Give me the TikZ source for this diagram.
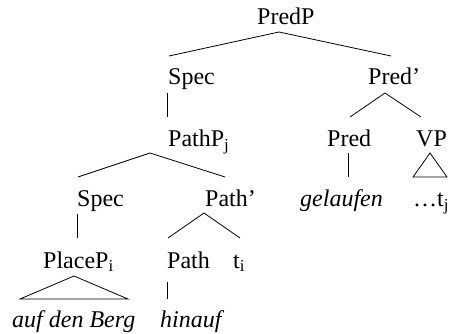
\documentclass[tikz,border=0pt]{standalone}
\usepackage{fontspec}
\setmainfont{Liberation Serif}
\begin{document}
\begin{tikzpicture}[x=1pt,y=-1pt,
  lbl/.style={anchor=base west, inner sep=0pt, font=\fontsize{24}{28}\selectfont},
  edge/.style={line width=0.8pt, line join=miter}]
\useasboundingbox (0,0) rectangle (450,334);
% labels
\node[lbl] (predp) at (257,25) {PredP};
\node[lbl] (spec1) at (168,85) {Spec};
\node[lbl] (predbar) at (368,85) {Pred’};
\node[lbl] (pathp) at (168,147) {PathP\textsubscript{j}};
\node[lbl] (pred) at (327,147) {Pred};
\node[lbl] (vp) at (416,147) {VP};
\node[lbl] (spec2) at (77,207) {Spec};
\node[lbl] (pathbar) at (205,207) {Path’};
\node[lbl] (gelaufen) at (300,207) {\itshape gelaufen};
\node[lbl] (tj) at (413,207) {…t\textsubscript{j}};
\node[lbl] (placep) at (43,268) {PlaceP\textsubscript{i}};
\node[lbl] (path) at (167,268) {Path};
\node[lbl] (ti) at (233,268) {t\textsubscript{i}};
\node[lbl] (berg) at (12,327) {\itshape auf den Berg};
\node[lbl] (hinauf) at (160,327) {\itshape hinauf};
% connector points
\coordinate (predpA) at (279,32);
\coordinate (spec1T) at (169,56);
\coordinate (predbarT) at (391,56);
\coordinate (spec1B) at (167,93);
\coordinate (pathpT) at (167,117);
\coordinate (predbarA) at (385,93);
\coordinate (predT) at (350,117);
\coordinate (vpT) at (421,117);
\coordinate (pathpA) at (150,153);
\coordinate (spec2T) at (78,177);
\coordinate (pathbarT) at (225,177);
\coordinate (predB) at (348,153);
\coordinate (gelaufenT) at (348,177);
\coordinate (vpA) at (430,153);
\coordinate (vpL) at (413,177);
\coordinate (vpR) at (447,177);
\coordinate (spec2B) at (77,214);
\coordinate (placepT) at (77,238);
\coordinate (pathbarA) at (204,213);
\coordinate (pathT) at (168,238);
\coordinate (tiT) at (240,238);
\coordinate (placepA) at (74,276);
\coordinate (placepL) at (20,299);
\coordinate (placepR) at (128,299);
\coordinate (pathB) at (167,282);
\coordinate (hinaufT) at (167,299);
% connectors
\draw[edge] (spec1T) -- (predpA) -- (predbarT);
\draw[edge] (spec1B) -- (pathpT);
\draw[edge] (predT) -- (predbarA) -- (vpT);
\draw[edge] (spec2T) -- (pathpA) -- (pathbarT);
\draw[edge] (predB) -- (gelaufenT);
\draw[edge] (vpA) -- (vpL) -- (vpR) -- cycle;
\draw[edge] (spec2B) -- (placepT);
\draw[edge] (pathT) -- (pathbarA) -- (tiT);
\draw[edge] (placepA) -- (placepL) -- (placepR) -- cycle;
\draw[edge] (pathB) -- (hinaufT);
\end{tikzpicture}
\end{document}
